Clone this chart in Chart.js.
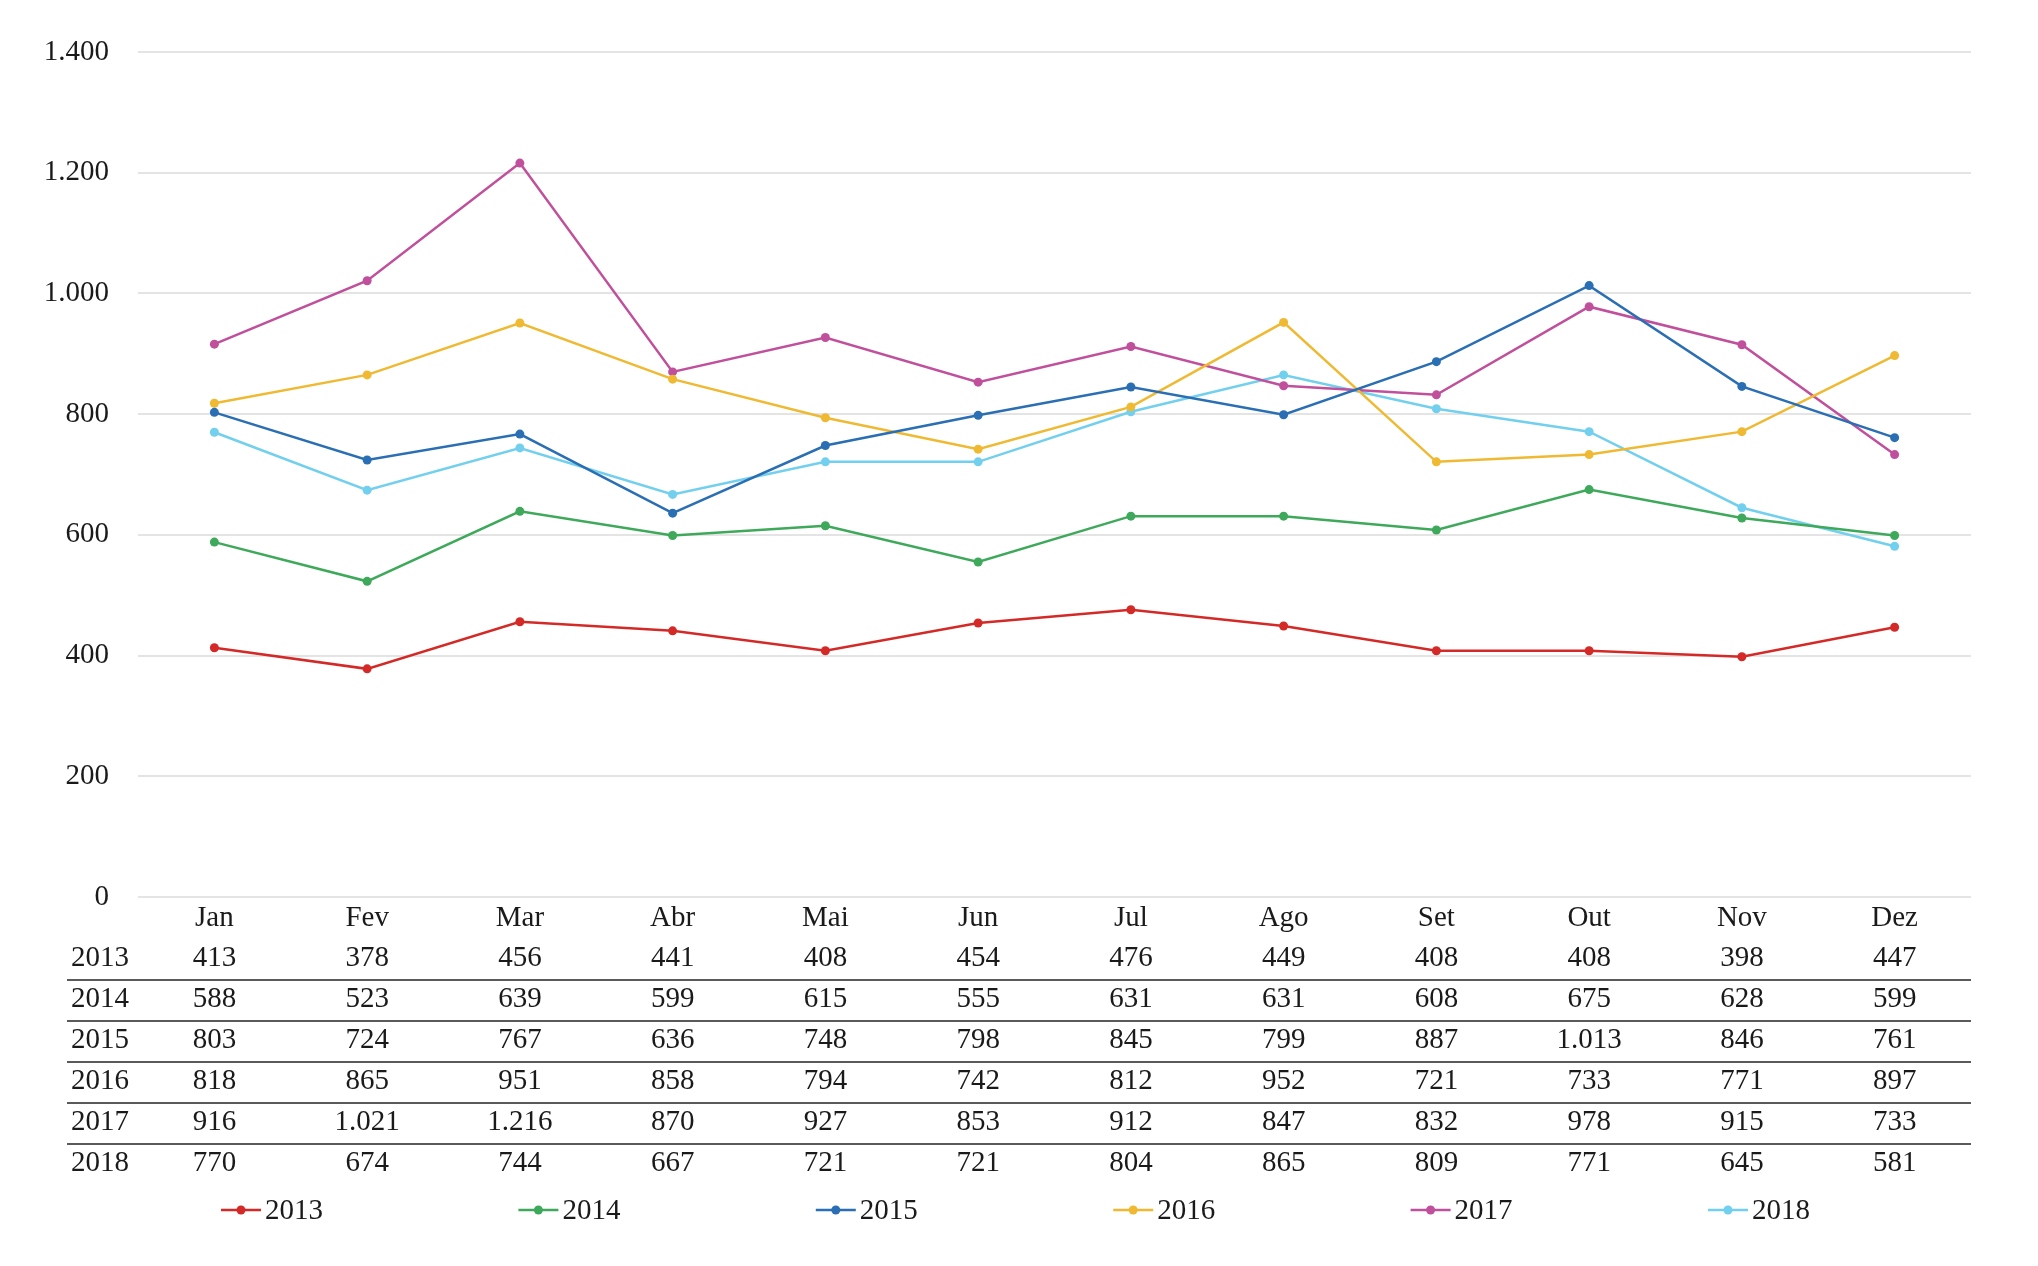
<!DOCTYPE html>
<html>
<head>
<meta charset="utf-8">
<script src="https://cdn.jsdelivr.net/npm/chart.js@4/dist/chart.umd.min.js"></script>
<style>
html,body{margin:0;padding:0;background:#fff;}
#wrap{width:2038px;height:1266px;position:relative;}
</style>
</head>
<body>
<div id="wrap"><canvas id="c" width="2038" height="1266"></canvas></div>
<script>
const months = ["Jan","Fev","Mar","Abr","Mai","Jun","Jul","Ago","Set","Out","Nov","Dez"];
const years = ["2013","2014","2015","2016","2017","2018"];
const v2013 = [413,378,456,441,408,454,476,449,408,408,398,447];
const v2014 = [588,523,639,599,615,555,631,631,608,675,628,599];
const v2015 = [803,724,767,636,748,798,845,799,887,1013,846,761];
const v2016 = [818,865,951,858,794,742,812,952,721,733,771,897];
const v2017 = [916,1021,1216,870,927,853,912,847,832,978,915,733];
const v2018 = [770,674,744,667,721,721,804,865,809,771,645,581];
const yTicks = [0,200,400,600,800,1000,1200,1400];
const colors = ["#d42a27","#3ea95a","#2a6eb4","#efb932","#c0509c","#72d0ee"];
const series = [v2013,v2014,v2015,v2016,v2017,v2018];

const FONT = '"Liberation Serif", "Times New Roman", serif';
const fmt = n => n.toLocaleString('de-DE');

const tablePlugin = {
  id: 'tableLegend',
  afterDraw(chart) {
    const ctx = chart.ctx;
    const xs = chart.scales.x;
    const area = chart.chartArea;
    ctx.save();
    ctx.font = '29px ' + FONT;
    ctx.fillStyle = '#1a1a1a';
    ctx.textBaseline = 'middle';
    ctx.textAlign = 'center';
    months.forEach((m, i) => ctx.fillText(m, xs.getPixelForValue(i), area.bottom + 21));
    const rowY0 = area.bottom + 61, rowH = 41;
    chart.data.datasets.forEach((ds, r) => {
      const y = rowY0 + r * rowH;
      ctx.textAlign = 'left';
      ctx.fillStyle = '#1a1a1a';
      ctx.fillText(ds.label, 71, y);
      ctx.textAlign = 'center';
      ds.data.forEach((v, i) => ctx.fillText(fmt(v), xs.getPixelForValue(i), y));
      if (r < chart.data.datasets.length - 1) {
        ctx.strokeStyle = '#5a5a5a';
        ctx.lineWidth = 2;
        ctx.beginPath();
        ctx.moveTo(67, y + 22);
        ctx.lineTo(area.right, y + 22);
        ctx.stroke();
      }
    });
    const ly = 1210;
    const lx0 = 241, lstep = 297.4;
    chart.data.datasets.forEach((ds, k) => {
      const cx = lx0 + k * lstep;
      ctx.strokeStyle = ds.borderColor;
      ctx.lineWidth = 2.5;
      ctx.beginPath();
      ctx.moveTo(cx - 20, ly);
      ctx.lineTo(cx + 20, ly);
      ctx.stroke();
      ctx.fillStyle = ds.borderColor;
      ctx.beginPath();
      ctx.arc(cx, ly, 4.5, 0, Math.PI * 2);
      ctx.fill();
      ctx.fillStyle = '#1a1a1a';
      ctx.textAlign = 'left';
      ctx.fillText(ds.label, cx + 24, ly + 1);
    });
    ctx.restore();
  }
};

new Chart(document.getElementById('c'), {
  type: 'line',
  data: {
    labels: months,
    datasets: years.map((y, i) => ({
      label: y,
      data: series[i],
      borderColor: colors[i],
      backgroundColor: colors[i],
      borderWidth: 2.5,
      pointRadius: 4.5,
      pointBorderWidth: 0,
      tension: 0
    }))
  },
  options: {
    responsive: false,
    animation: false,
    devicePixelRatio: 1,
    layout: { padding: { top: 52, left: 0, right: 67, bottom: 369 } },
    plugins: { legend: { display: false }, tooltip: { enabled: false } },
    scales: {
      x: {
        offset: true,
        grid: { display: false },
        border: { display: false },
        ticks: { display: false },
        afterFit(s) { s.height = 0; }
      },
      y: {
        min: 0, max: 1400,
        afterBuildTicks(s) { s.ticks = yTicks.map(v => ({ value: v })); },
        grid: { color: '#e4e4e4', lineWidth: 2, drawTicks: false },
        border: { display: false },
        ticks: {
          padding: 29,
          color: '#1a1a1a',
          font: { family: FONT, size: 29 },
          callback: v => fmt(v)
        },
        afterFit(s) { s.width = 138; }
      }
    }
  },
  plugins: [tablePlugin]
});
</script>
</body>
</html>
